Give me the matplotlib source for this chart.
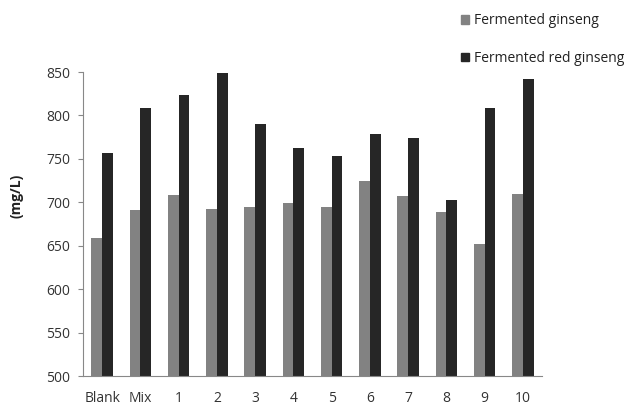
import matplotlib
matplotlib.use("Agg")
import matplotlib.pyplot as plt
import numpy as np
from matplotlib.patches import Patch

categories = ["Blank", "Mix", "1", "2", "3", "4", "5", "6", "7", "8", "9", "10"]
fermented_ginseng = [659, 691, 708, 692, 694, 699, 694, 725, 707, 689, 652, 710]
fermented_red_ginseng = [757, 809, 823, 849, 790, 762, 753, 779, 774, 703, 809, 842]
yticks = [500, 550, 600, 650, 700, 750, 800, 850]

plt.rcParams['font.family'] = ['Open Sans', 'DejaVu Sans']

fig = plt.figure(figsize=(6.24, 4.12), dpi=100)
ax = fig.add_axes([83/624, 1 - 376/412, (542-83)/624, (376-72)/412])

x = np.arange(len(categories))
w = 0.28
ax.bar(x - w/2, fermented_ginseng, width=w, color="#828282", label="Fermented ginseng")
ax.bar(x + w/2, fermented_red_ginseng, width=w, color="#262626", label="Fermented red ginseng")

ax.set_xlim(-0.5, len(categories) - 0.5)
ax.set_ylim(500, 850)
ax.set_yticks(yticks)
ax.set_yticklabels([str(t) for t in yticks], fontsize=10, color="#333333")
ax.set_xticks(x)
ax.set_xticklabels(categories, fontsize=10, color="#333333")
ax.tick_params(axis='x', length=0, pad=11)
ax.tick_params(axis='y', length=3.6, width=0.8, color="#888888", pad=5.5, direction='out')
for s in ["top", "right"]:
    ax.spines[s].set_visible(False)
for s in ["left", "bottom"]:
    ax.spines[s].set_color("#888888")
    ax.spines[s].set_linewidth(0.8)

fig.text(17/624, 1 - 196/412, "(mg/L)", rotation=90, ha="center", va="center",
         fontsize=10, fontweight="bold", color="#222222")

handles = [Patch(color="#828282"), Patch(color="#262626")]
leg = fig.legend(handles, ["Fermented ginseng", "Fermented red ginseng"],
                 loc="upper left", bbox_to_anchor=(461/624, 1 - 13/412),
                 frameon=False, fontsize=10, labelspacing=1.65,
                 handlelength=0.6, handleheight=0.6, handletextpad=0.35,
                 borderaxespad=0, borderpad=0)
for t in leg.get_texts():
    t.set_color("#222222")

fig.savefig("out.png", dpi=100)
